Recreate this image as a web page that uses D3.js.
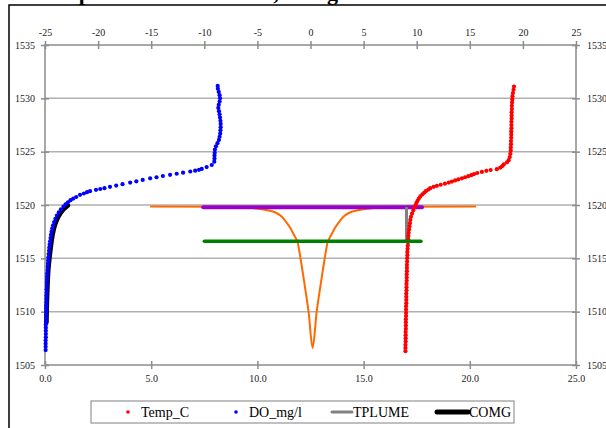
<!DOCTYPE html>
<html>
<head>
<meta charset="utf-8">
<script src="https://cdn.jsdelivr.net/npm/d3@7"></script>
<style>
  body { margin: 0; background: #fff; }
  svg { display: block; font-family: "Liberation Serif", "Times New Roman", serif; }
  .axis path, .axis line { stroke: #8c8c8c; stroke-width: 1.5; }
  .axis text { font-size: 10px; fill: #222; font-family: "Liberation Serif", serif; }
</style>
</head>
<body>
<svg id="chart" width="606" height="428"></svg>
<script>
// Temp_C profile: [depth, temperature] (bottom axis)
const tempC = [
  [1506.3,16.97],[1506.6,16.97],[1506.9,16.97],[1507.2,16.98],[1507.5,16.98],[1507.8,16.98],
  [1508.1,16.98],[1508.4,16.99],[1508.7,16.99],[1509.0,16.99],[1509.3,16.99],[1509.6,17.0],
  [1509.9,17.0],[1510.2,17.0],[1510.5,17.0],[1510.8,17.01],[1511.1,17.01],[1511.4,17.01],
  [1511.7,17.01],[1512.0,17.02],[1512.3,17.02],[1512.6,17.02],[1512.9,17.03],[1513.2,17.03],
  [1513.5,17.03],[1513.8,17.04],[1514.1,17.04],[1514.4,17.04],[1514.7,17.05],[1515.0,17.05],
  [1515.3,17.06],[1515.6,17.06],[1515.9,17.07],[1516.2,17.08],[1516.5,17.09],[1516.8,17.1],
  [1517.1,17.11],[1517.4,17.12],[1517.7,17.14],[1518.0,17.16],[1518.3,17.18],[1518.6,17.2],
  [1518.9,17.23],[1519.2,17.28],[1519.5,17.34],[1519.8,17.4],[1520.0,17.45],[1520.2,17.49],
  [1520.4,17.54],[1520.6,17.6],[1520.8,17.67],[1521.0,17.77],[1521.15,17.85],[1521.3,17.93],
  [1521.45,18.05],[1521.58,18.14],[1521.7,18.3],[1521.8,18.45],[1521.9,18.63],[1522.0,18.83],
  [1522.1,19.01],[1522.2,19.16],[1522.3,19.31],[1522.4,19.46],[1522.5,19.63],[1522.6,19.78],
  [1522.7,19.93],[1522.8,20.07],[1522.9,20.2],[1523.0,20.35],[1523.1,20.57],[1523.2,20.78],
  [1523.28,20.98],[1523.36,21.27],[1523.5,21.43],[1523.65,21.53],[1523.8,21.6],[1524.0,21.75],
  [1524.2,21.83],[1524.5,21.88],[1524.8,21.91],[1525.1,21.93],[1525.4,21.93],[1525.7,21.94],
  [1526.0,21.94],[1526.3,21.95],[1526.6,21.95],[1526.9,21.95],[1527.2,21.96],[1527.5,21.96],
  [1527.8,21.96],[1528.1,21.97],[1528.4,21.97],[1528.7,21.97],[1529.0,21.98],[1529.3,21.98],
  [1529.6,21.99],[1529.9,22.0],[1530.2,22.01],[1530.5,22.03],[1530.8,22.06],[1531.1,22.08]
];

// DO_mg/l profile: [depth, oxygen] (bottom axis)
const doMgL = [
  [1506.4,0.03],[1506.7,0.03],[1507.0,0.03],[1507.3,0.03],[1507.6,0.04],[1507.9,0.04],
  [1508.2,0.04],[1508.5,0.04],[1508.8,0.04],[1509.1,0.05],[1509.4,0.05],[1509.7,0.05],
  [1510.0,0.06],[1510.3,0.06],[1510.6,0.06],[1510.9,0.07],[1511.2,0.07],[1511.5,0.07],
  [1511.8,0.08],[1512.1,0.08],[1512.4,0.09],[1512.7,0.09],[1513.0,0.1],[1513.3,0.1],
  [1513.6,0.11],[1513.9,0.12],[1514.2,0.13],[1514.5,0.14],[1514.8,0.15],[1515.1,0.16],
  [1515.4,0.17],[1515.7,0.19],[1516.0,0.2],[1516.3,0.22],[1516.6,0.24],[1516.9,0.26],
  [1517.2,0.28],[1517.5,0.31],[1517.8,0.34],[1518.1,0.38],[1518.4,0.43],[1518.7,0.49],
  [1519.0,0.56],[1519.3,0.65],[1519.6,0.75],[1519.85,0.87],[1520.05,0.97],[1520.25,1.08],
  [1520.45,1.2],[1520.6,1.33],[1520.75,1.47],[1520.95,1.65],[1521.08,1.83],[1521.2,1.98],
  [1521.3,2.12],[1521.42,2.4],[1521.5,2.6],[1521.58,2.8],[1521.7,3.06],[1521.82,3.35],
  [1521.95,3.65],[1522.1,4.01],[1522.22,4.3],[1522.35,4.6],[1522.5,4.95],[1522.6,5.25],
  [1522.72,5.55],[1522.83,5.89],[1522.93,6.2],[1523.03,6.5],[1523.14,6.84],[1523.22,7.07],
  [1523.3,7.25],[1523.38,7.38],[1523.56,7.61],[1523.75,7.85],[1524.06,7.97],[1524.35,7.98],
  [1524.65,7.98],[1524.9,7.99],[1525.2,8.0],[1525.5,8.05],[1525.8,8.12],[1526.1,8.19],
  [1526.4,8.22],[1526.7,8.25],[1527.0,8.26],[1527.3,8.27],[1527.6,8.27],[1527.9,8.26],
  [1528.2,8.24],[1528.5,8.22],[1528.8,8.19],[1529.1,8.16],[1529.4,8.18],[1529.7,8.22],
  [1530.0,8.24],[1530.3,8.22],[1530.6,8.18],[1530.9,8.14],[1531.16,8.13]
];

// TPLUME (bottom axis): [depth, temperature]
const tplume = [[1519.8,17.02],[1516.6,17.02]];

// COMG (bottom axis): [depth, value]
const comg = [
  [1519.95,1.08],[1519.6,0.88],[1519.2,0.72],[1518.6,0.56],[1518.0,0.45],[1517.0,0.34],
  [1516.0,0.27],[1515.0,0.21],[1514.0,0.16],[1512.0,0.11],[1510.0,0.08],[1509.0,0.07]
];

// plume cross-section (top axis): [offset, depth]
const plumeProfile = [
  [-15.1,1519.85],[-7.8,1519.84],[-5.8,1519.75],[-4.3,1519.55],[-3.2,1519.25],[-2.7,1518.9],
  [-2.25,1518.35],[-1.9,1517.85],[-1.65,1517.38],[-1.42,1516.95],[-1.22,1516.53],[-0.93,1514.94],
  [-0.55,1512.5],[-0.18,1509.97],[0.2,1506.6],[0.58,1509.97],[0.95,1512.5],[1.33,1514.94],
  [1.62,1516.53],[1.82,1516.95],[2.05,1517.38],[2.3,1517.85],[2.65,1518.35],[3.1,1518.9],
  [3.6,1519.25],[4.7,1519.55],[6.2,1519.75],[8.2,1519.84],[15.6,1519.85]
];
// plume top and centre-of-mass levels (top axis): [offset, depth]
const plumeTop = [[-10.1,1519.8],[10.5,1519.8]];
const plumeCom = [[-10.0,1516.6],[10.4,1516.6]];

const topTicks = d3.range(-25, 26, 5);
const bottomTicks = d3.range(0, 26, 5);
const depthTicks = d3.range(1505, 1536, 5);

const legendItems = [
  { name: 'Temp_C', kind: 'dot', color: '#ff0000' },
  { name: 'DO_mg/l', kind: 'dot', color: '#0000ff' },
  { name: 'TPLUME', kind: 'line', color: '#808080' },
  { name: 'COMG', kind: 'line', color: '#000000' }
];

const svg = d3.select('#chart');
const L = 45, R = 576, T = 45, B = 365;

const xb = d3.scaleLinear().domain([0, 25]).range([L, R]);
const xt = d3.scaleLinear().domain([-25, 25]).range([L, R]);
const y = d3.scaleLinear().domain([1505, 1535]).range([B, T]);

// outer frame and the title cut off above it
svg.append('path')
  .attr('d', `M9,430 L9,5 L610,5`)
  .attr('fill', 'none').attr('stroke', '#000').attr('stroke-width', 1.5);
svg.append('text')
  .attr('x', 38).attr('y', 0)
  .attr('font-weight', 'bold').attr('font-size', 22)
  .attr('fill', '#000')
  .text('Temperature & DO Data, Using Model Results');

// gridlines
svg.append('g').selectAll('line')
  .data(depthTicks.slice(1, -1))
  .join('line')
  .attr('x1', L).attr('x2', R)
  .attr('y1', d => y(d)).attr('y2', d => y(d))
  .attr('stroke', '#b0b0b0').attr('stroke-width', 1.5);

// axes with crossing ticks
const crossTicks = (g, horizontal) => {
  g.attr('font-family', '"Liberation Serif", serif').attr('font-size', 10);
  g.selectAll('.tick line').each(function() {
    const el = d3.select(this);
    if (horizontal) el.attr('y1', -4).attr('y2', 4);
    else el.attr('x1', -4).attr('x2', 4);
  });
  g.select('.domain').attr('d', null);
};
const plain = d => String(d);

const gTop = svg.append('g').attr('class', 'axis').attr('transform', `translate(0,${T})`)
  .call(d3.axisTop(xt).tickValues(topTicks).tickSize(4).tickPadding(5).tickFormat(plain));
crossTicks(gTop, true);
const gBot = svg.append('g').attr('class', 'axis').attr('transform', `translate(0,${B})`)
  .call(d3.axisBottom(xb).tickValues(bottomTicks).tickSize(4).tickPadding(6).tickFormat(d => d.toFixed(1)));
crossTicks(gBot, true);
const gLeft = svg.append('g').attr('class', 'axis').attr('transform', `translate(${L},0)`)
  .call(d3.axisLeft(y).tickValues(depthTicks).tickSize(4).tickPadding(6).tickFormat(plain));
crossTicks(gLeft, false);
const gRight = svg.append('g').attr('class', 'axis').attr('transform', `translate(${R},0)`)
  .call(d3.axisRight(y).tickValues(depthTicks).tickSize(4).tickPadding(7).tickFormat(plain));
crossTicks(gRight, false);

// plot border lines
svg.append('rect')
  .attr('x', L).attr('y', T).attr('width', R - L).attr('height', B - T)
  .attr('fill', 'none').attr('stroke', '#8c8c8c').attr('stroke-width', 1.5);

// lines
const topLine = d3.line().x(d => xt(d[0])).y(d => y(d[1]));
const botLine = d3.line().x(d => xb(d[1])).y(d => y(d[0]));

svg.append('path').datum(plumeProfile)
  .attr('d', topLine.curve(d3.curveMonotoneX))
  .attr('fill', 'none').attr('stroke', '#ff6a00').attr('stroke-width', 2);

svg.append('path').datum(plumeTop)
  .attr('d', d3.line().x(d => xt(d[0])).y(d => y(d[1])))
  .attr('fill', 'none').attr('stroke', '#9900cc').attr('stroke-width', 4)
  .attr('stroke-linecap', 'round');

svg.append('path').datum(tplume)
  .attr('d', botLine)
  .attr('fill', 'none').attr('stroke', '#808080').attr('stroke-width', 3);

svg.append('path').datum(comg)
  .attr('d', d3.line().x(d => xb(d[1])).y(d => y(d[0])).curve(d3.curveMonotoneY))
  .attr('fill', 'none').attr('stroke', '#000').attr('stroke-width', 4.5)
  .attr('stroke-linecap', 'round');

// dots
svg.append('g').selectAll('circle')
  .data(tempC)
  .join('circle')
  .attr('cx', d => xb(d[1])).attr('cy', d => y(d[0]))
  .attr('r', 2.1).attr('fill', '#ff0000');

svg.append('g').selectAll('circle')
  .data(doMgL)
  .join('circle')
  .attr('cx', d => xb(d[1])).attr('cy', d => y(d[0]))
  .attr('r', 2.1).attr('fill', '#0000ff');

svg.append('path').datum(plumeCom)
  .attr('d', d3.line().x(d => xt(d[0])).y(d => y(d[1])))
  .attr('fill', 'none').attr('stroke', '#008000').attr('stroke-width', 3.5)
  .attr('stroke-linecap', 'round');

// legend
const lg = svg.append('g');
lg.append('rect')
  .attr('x', 91).attr('y', 401).attr('width', 423).attr('height', 22)
  .attr('fill', '#fff').attr('stroke', '#808080').attr('stroke-width', 1);
const legendX = [128, 236, 332, 437];
legendItems.forEach((it, i) => {
  const x0 = legendX[i];
  const wide = it.name === 'COMG';
  if (it.kind === 'dot') {
    lg.append('circle').attr('cx', x0).attr('cy', 412).attr('r', 1.8).attr('fill', it.color);
    lg.append('text').attr('x', x0 + 13).attr('y', 417).attr('font-size', 14).attr('fill', '#000').text(it.name);
  } else {
    lg.append('line').attr('x1', x0).attr('x2', x0 + (wide ? 31 : 20))
      .attr('y1', 412).attr('y2', 412)
      .attr('stroke', it.color).attr('stroke-width', wide ? 5 : 3)
      .attr('stroke-linecap', 'round');
    lg.append('text').attr('x', x0 + (wide ? 32 : 21)).attr('y', 417)
      .attr('font-size', 14).attr('fill', '#000').text(it.name);
  }
});
</script>
</body>
</html>
